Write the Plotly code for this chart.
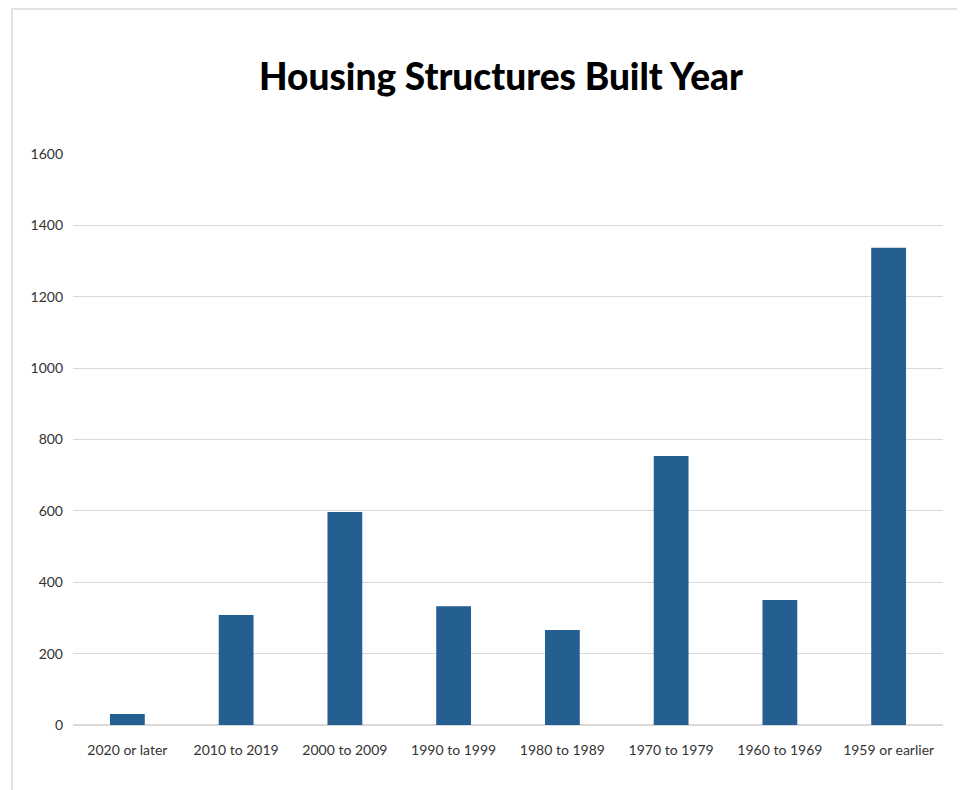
import plotly.graph_objects as go

# Housing structures by year built
categorias = ["2020 or later", "2010 to 2019", "2000 to 2009", "1990 to 1999",
              "1980 to 1989", "1970 to 1979", "1960 to 1969", "1959 or earlier"]
valores = [31, 308, 597, 333, 266, 754, 350, 1337]
y_ticks = [0, 200, 400, 600, 800, 1000, 1200, 1400, 1600]

# a pagina tem margem de 8px no body, entao desconta isso
OFF = 8
W, H = 965 - OFF, 790 - OFF
ml, mr, mt, mb = 73 - OFF, 22, 154 - OFF, 65
pw, ph = W - ml - mr, H - mt - mb

fig = go.Figure()
fig.add_trace(go.Bar(
    x=categorias,
    y=valores,
    marker=dict(color="#255e91", line=dict(width=0)),
    width=0.32,
    hoverinfo="x+y",
))

# moldura cinza em volta do grafico
fig.add_shape(
    type="rect", xref="paper", yref="paper",
    x0=(12 - OFF - ml) / pw, x1=(960 - OFF - ml) / pw,
    y0=-(mb + 30) / ph, y1=(mt - 1) / ph + 1,
    line=dict(color="#d9d9d9", width=1.5), layer="below",
)

fig.update_layout(
    width=W, height=H,
    margin=dict(l=ml, r=mr, t=mt, b=mb),
    paper_bgcolor="white", plot_bgcolor="white",
    showlegend=False,
    title=dict(
        text="Housing Structures Built Year",
        x=(501 - OFF) / W, xanchor="center",
        y=1 - (77 - OFF) / H, yanchor="middle",
        font=dict(family="Lato", size=37, color="black", weight=900),
    ),
    font=dict(family="Lato", size=14, color="#333333"),
)
fig.update_xaxes(
    showgrid=False, showline=False, ticks="",
    tickfont=dict(size=14, color="#333333"),
    ticklabelstandoff=15,
)
fig.update_yaxes(
    range=[0, 1600], tickvals=y_ticks,
    showgrid=True, gridcolor="#d9d9d9", gridwidth=1,
    zeroline=True, zerolinecolor="#d9d9d9", zerolinewidth=1.5,
    showline=False, ticks="",
    tickfont=dict(size=14, color="#333333"),
    ticklabelstandoff=9,
)

fig.write_html("out.html")
